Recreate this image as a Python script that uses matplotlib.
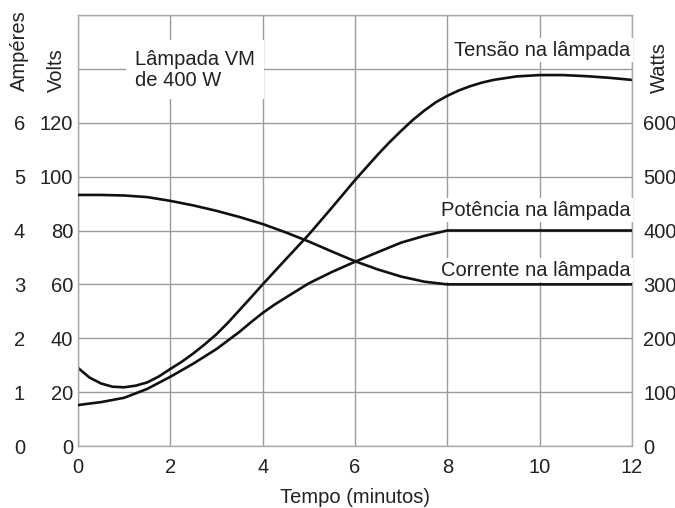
import matplotlib
matplotlib.use("Agg")
import matplotlib.pyplot as plt

plt.rcParams['font.family'] = ['Liberation Sans', 'DejaVu Sans']

# Data
t_tensao = [0, 0.25, 0.5, 0.75, 1.0, 1.25, 1.5, 1.75, 2, 2.25, 2.5, 2.75, 3,
            3.25, 3.5, 3.75, 4, 4.5, 5, 5.5, 6, 6.5, 6.75, 7, 7.25, 7.5, 7.75,
            8, 8.25, 8.5, 8.75, 9, 9.5, 10, 10.5, 11, 11.5, 12]
volts_tensao = [29, 25.4, 23.2, 22.0, 21.8, 22.4, 23.6, 25.8, 28.6, 31.3, 34.4,
                37.8, 41.5, 45.8, 50.5, 55.2, 60, 69.3, 78.5, 88.5, 98.7, 108.3,
                112.8, 117, 121, 124.5, 127.6, 130.0, 132.0, 133.6, 134.9, 135.9,
                137.2, 137.7, 137.7, 137.3, 136.7, 135.9]

t_potencia = [0, 0.5, 1, 1.5, 2, 2.5, 3, 3.5, 3.75, 4, 4.25, 4.5, 5, 5.5, 6,
              6.5, 7, 7.5, 8, 12]
watts_potencia = [76, 81.5, 89.5, 106, 128.5, 153, 180, 212, 230, 247, 262,
                  275.5, 302, 323, 342, 360, 377.5, 390, 400, 400]

t_corrente = [0, 0.5, 1, 1.5, 2, 2.5, 3, 3.5, 4, 4.5, 5, 5.5, 6, 6.5, 7, 7.5,
              8, 12]
amps_corrente = [4.66, 4.66, 4.65, 4.62, 4.55, 4.465, 4.365, 4.25, 4.12, 3.965,
                 3.795, 3.61, 3.43, 3.275, 3.145, 3.05, 3.0, 3.0]

x_ticks = [0, 2, 4, 6, 8, 10, 12]
volt_ticks = [0, 20, 40, 60, 80, 100, 120]
amp_ticks = [0, 1, 2, 3, 4, 5, 6]
watt_ticks = [0, 100, 200, 300, 400, 500, 600]

grid_color = '#9b9b9b'
txt = '#222222'
fs = 14.5

fig = plt.figure(figsize=(6.75, 5.08), dpi=100)
ax = fig.add_axes([78/675, 62/508, 554/675, 431/508])
ax.set_xlim(0, 12)
ax.set_ylim(0, 160)

ax.set_xticks(x_ticks)
ax.set_yticks(list(range(0, 161, 20)))
ax.set_yticklabels([str(v) for v in volt_ticks] + ['', ''])
ax.grid(True, color=grid_color, linewidth=1.0)
ax.set_axisbelow(True)
ax.tick_params(length=0, labelsize=fs, colors=txt)
ax.tick_params(axis='y', pad=3.5)
ax.tick_params(axis='x', pad=8.5)
for s in ax.spines.values():
    s.set_color('#aaaaaa')
    s.set_linewidth(1.0)

# amps axis (left, outer)
ax_a = ax.twinx()
ax_a.set_ylim(0, 8)
ax_a.yaxis.tick_left()
ax_a.spines['left'].set_position(('axes', -0.0955))
for s in ax_a.spines.values():
    s.set_visible(False)
ax_a.set_yticks(amp_ticks)
ax_a.tick_params(length=0, labelsize=fs, colors=txt, pad=0)

# watts axis (right)
ax_w = ax.twinx()
ax_w.set_ylim(0, 800)
for s in ax_w.spines.values():
    s.set_visible(False)
ax_w.set_yticks(watt_ticks)
ax_w.tick_params(length=0, labelsize=fs, colors=txt, pad=8)

lw = 1.9
ax.plot(t_tensao, volts_tensao, color='#111111', lw=lw, solid_joinstyle='round')
ax_w.plot(t_potencia, watts_potencia, color='#111111', lw=lw, solid_joinstyle='round')
ax_a.plot(t_corrente, amps_corrente, color='#111111', lw=lw, solid_joinstyle='round')

box = dict(boxstyle='square,pad=0.12', fc='white', ec='none')
ax.text(11.97, 147, 'Tensão na lâmpada', ha='right', va='center', fontsize=fs,
        color=txt, bbox=box, zorder=5)
ax.text(11.97, 87.6, 'Potência na lâmpada', ha='right', va='center', fontsize=fs,
        color=txt, bbox=box, zorder=5)
ax.text(11.97, 65.3, 'Corrente na lâmpada', ha='right', va='center', fontsize=fs,
        color=txt, bbox=box, zorder=5)
ax.text(1.23, 139.7, 'Lâmpada VM\nde 400 W', ha='left', va='center', fontsize=fs,
        color=txt, linespacing=1.15,
        bbox=dict(boxstyle='square,pad=0.45', fc='white', ec='none'), zorder=5)

ax.set_xlabel('Tempo (minutos)', fontsize=fs, color=txt, labelpad=8)

fig.text(19/675, 1 - 51/508, 'Ampéres', rotation=90, ha='center', va='center',
         fontsize=fs, color=txt)
fig.text(56/675, 1 - 70/508, 'Volts', rotation=90, ha='center', va='center',
         fontsize=fs, color=txt)
fig.text(659/675, 1 - 68/508, 'Watts', rotation=90, ha='center', va='center',
         fontsize=fs, color=txt)

fig.savefig('out.png', dpi=100)
